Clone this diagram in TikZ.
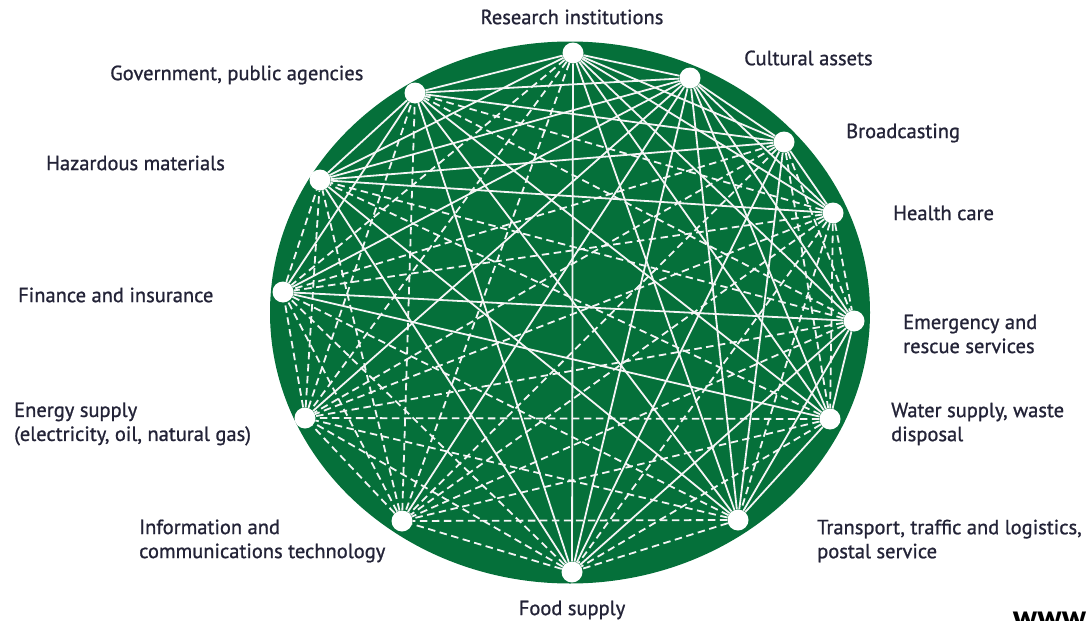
\documentclass[tikz,border=0pt]{standalone}
\usepackage{fontspec}
\setmainfont{PT Sans}
\newfontfamily\lblfont{PT Sans}[FakeBold=1.0]
\definecolor{disc}{RGB}{5,112,58}
\definecolor{lbl}{RGB}{35,35,55}
\definecolor{wline}{RGB}{245,245,245}
\begin{document}
\begin{tikzpicture}[x=1pt,y=-1pt,
  hub/.style={circle,fill=white,draw=none,inner sep=0pt,minimum size=21pt},
  sol/.style={draw=wline,line width=1.8pt},
  das/.style={draw=wline,line width=1.8pt,dash pattern=on 7.5pt off 4.5pt},
  lab/.style={text=lbl,font=\lblfont\fontsize{20.5}{24}\selectfont,inner sep=0pt,align=left}]
\useasboundingbox (0,0) rectangle (1088,621);
\fill[disc] (570,312.5) ellipse [x radius=300pt, y radius=271pt];
% hubs
\node[hub] (R)  at (573,53) {};
\node[hub] (C)  at (690,78) {};
\node[hub] (B)  at (784,142) {};
\node[hub] (H)  at (833,213) {};
\node[hub] (E)  at (854,321) {};
\node[hub] (W)  at (830,419) {};
\node[hub] (T)  at (738,520) {};
\node[hub] (F)  at (572,572) {};
\node[hub] (I)  at (402,521) {};
\node[hub] (N)  at (305,418) {};
\node[hub] (Fi) at (283,292) {};
\node[hub] (Z)  at (320,180) {};
\node[hub] (G)  at (415,93) {};
% solid links
\foreach \a/\b in {R/C,R/B,R/H,R/E,R/W,R/T,R/F,R/Z,R/G,
  C/B,C/H,C/E,C/W,C/T,C/F,C/I,C/N,C/Fi,C/Z,C/G,
  B/H,B/T,B/F,B/Z,B/G,
  H/Z,
  E/W,E/T,E/F,E/Fi,
  W/T,W/Fi,W/G,
  T/G,T/Z,
  F/Z,F/G,
  Fi/G,
  Z/G}
  \draw[sol] (\a) -- (\b);
% dashed links
\foreach \a/\b in {R/Fi,R/N,R/I,
  B/E,B/W,B/I,B/N,B/Fi,
  H/E,H/W,H/T,H/F,H/I,H/N,H/Fi,H/G,
  E/I,E/N,E/Z,E/G,
  W/F,W/I,W/N,W/Z,
  T/F,T/I,T/N,T/Fi,
  F/I,F/N,F/Fi,
  I/N,I/Fi,I/Z,I/G,
  N/Fi,N/Z,N/G,
  Fi/Z}
  \draw[das] (\a) -- (\b);
% labels
\node[lab] (lR) at (572,17) {Research institutions};
\node[lab,anchor=west] (lC) at (744,58) {Cultural assets};
\node[lab,anchor=west] (lG) at (110,75) {Government, public agencies};
\node[lab,anchor=west] (lB) at (846,133) {Broadcasting};
\node[lab,anchor=west] (lZ) at (46,163) {Hazardous materials};
\node[lab,anchor=west] (lH) at (893,213) {Health care};
\node[lab,anchor=west] (lFi) at (18,295) {Finance and insurance};
\node[lab,anchor=west] (lE) at (903,334) {Emergency and\\rescue services};
\node[lab,anchor=west] (lN) at (14,424) {Energy supply\\(electricity, oil, natural gas)};
\node[lab,anchor=west] (lW) at (891,424) {Water supply, waste\\disposal};
\node[lab,anchor=west] (lI) at (139,541) {Information and\\communications technology};
\node[lab,anchor=west] (lT) at (817,541) {Transport, traffic and logistics,\\postal service};
\node[lab] (lF) at (572,610) {Food supply};
\begin{scope}
\clip (0,0) rectangle (1088,621);
\node[text=black,font=\fontsize{33}{33}\selectfont\bfseries,anchor=base west,inner sep=0pt] (www) at (1013,628) {www};
\end{scope}
\end{tikzpicture}
\end{document}
